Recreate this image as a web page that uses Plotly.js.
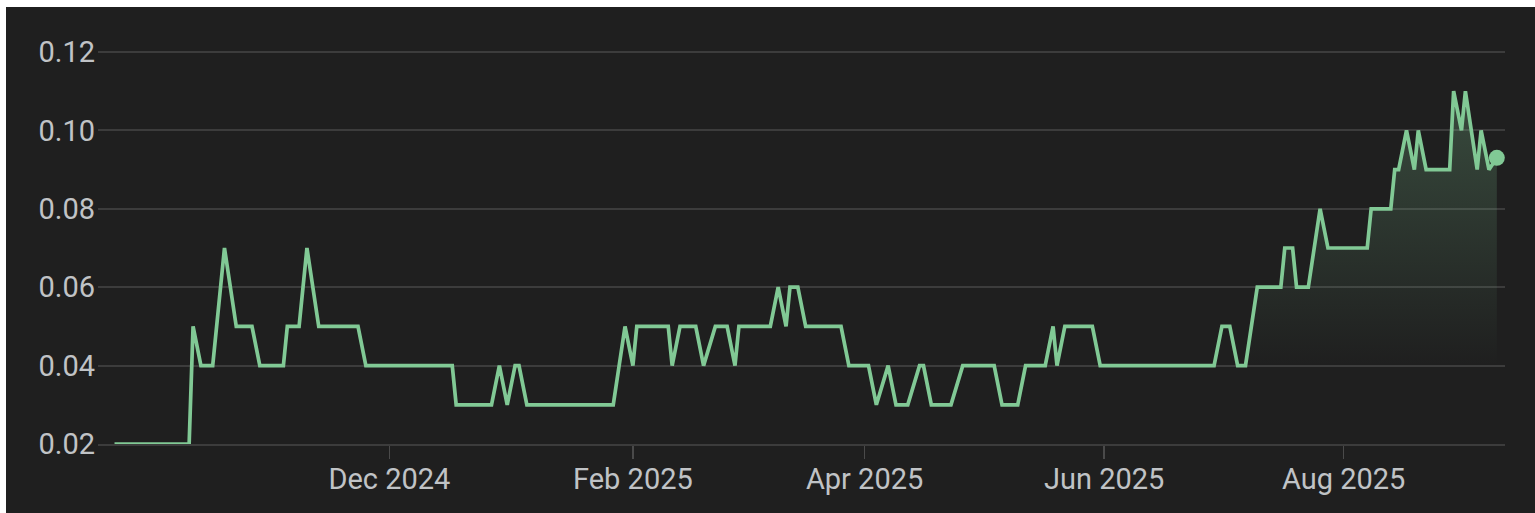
<!DOCTYPE html>
<html>
<head>
<meta charset="utf-8">
<script src="https://cdn.plot.ly/plotly-3.0.1.min.js"></script>
<style>
  html, body { margin: 0; padding: 0; background: #ffffff; width: 1535px; height: 513px; overflow: hidden; }
  #chart { position: absolute; left: 6px; top: 7px; width: 1529px; height: 506px; }
</style>
</head>
<body>
<div id="chart"></div>
<script>
// Price vertices (date, value)
const dates = [
  "2024-09-22","2024-10-11","2024-10-12","2024-10-14","2024-10-17","2024-10-20","2024-10-23","2024-10-27",
  "2024-10-29","2024-11-04","2024-11-05","2024-11-08","2024-11-10","2024-11-13","2024-11-23","2024-11-25",
  "2024-12-17","2024-12-18","2024-12-27","2024-12-29","2024-12-31","2025-01-02","2025-01-03","2025-01-05",
  "2025-01-27","2025-01-30","2025-02-01","2025-02-02","2025-02-10","2025-02-11","2025-02-13","2025-02-17",
  "2025-02-19","2025-02-22","2025-02-25","2025-02-27","2025-02-28","2025-03-08","2025-03-10","2025-03-12",
  "2025-03-13","2025-03-15","2025-03-17","2025-03-26","2025-03-28","2025-04-02","2025-04-04","2025-04-07",
  "2025-04-09","2025-04-12","2025-04-15","2025-04-16","2025-04-18","2025-04-23","2025-04-26","2025-05-04",
  "2025-05-06","2025-05-10","2025-05-12","2025-05-17","2025-05-19","2025-05-20","2025-05-22","2025-05-29",
  "2025-05-31","2025-06-29","2025-07-01","2025-07-03","2025-07-05","2025-07-07","2025-07-10","2025-07-16",
  "2025-07-17","2025-07-19","2025-07-20","2025-07-23","2025-07-26","2025-07-28","2025-08-07","2025-08-08",
  "2025-08-13","2025-08-14","2025-08-15","2025-08-17","2025-08-19","2025-08-20","2025-08-22","2025-08-28",
  "2025-08-29","2025-08-31","2025-09-01","2025-09-04","2025-09-05","2025-09-07","2025-09-09"
];
const prices = [
  0.02,0.02,0.05,0.04,0.04,0.07,0.05,0.05,
  0.04,0.04,0.05,0.05,0.07,0.05,0.05,0.04,
  0.04,0.03,0.03,0.04,0.03,0.04,0.04,0.03,
  0.03,0.05,0.04,0.05,0.05,0.04,0.05,0.05,
  0.04,0.05,0.05,0.04,0.05,0.05,0.06,0.05,
  0.06,0.06,0.05,0.05,0.04,0.04,0.03,0.04,
  0.03,0.03,0.04,0.04,0.03,0.03,0.04,0.04,
  0.03,0.03,0.04,0.04,0.05,0.04,0.05,0.05,
  0.04,0.04,0.05,0.05,0.04,0.04,0.06,0.06,
  0.07,0.07,0.06,0.06,0.08,0.07,0.07,0.08,
  0.08,0.09,0.09,0.10,0.09,0.10,0.09,0.09,
  0.11,0.10,0.11,0.09,0.10,0.09,0.093
];
const fillStartDate = "2025-07-07";
const xTickVals = ["2024-12-01", "2025-02-01", "2025-04-01", "2025-06-01", "2025-08-01"];
const xTickText = ["Dec 2024", "Feb 2025", "Apr 2025", "Jun 2025", "Aug 2025"];
const yTickVals = [0.02, 0.04, 0.06, 0.08, 0.10, 0.12];
const yTickText = ["0.02", "0.04", "0.06", "0.08", "0.10", "0.12"];

const GREEN = "#81c995";
const startIdx = dates.indexOf(fillStartDate);
const fillX = dates.slice(startIdx);
const fillY = prices.slice(startIdx);

const traces = [
  {
    x: fillX, y: fillY, type: "scatter", mode: "lines",
    line: { width: 0, color: "rgba(0,0,0,0)" },
    fill: "tozeroy",
    fillgradient: {
      type: "vertical", start: 0.04, stop: 0.11,
      colorscale: [[0, "rgba(129,201,149,0)"], [1, "rgba(129,201,149,0.26)"]]
    },
    hoverinfo: "skip", showlegend: false
  },
  {
    x: dates, y: prices, type: "scatter", mode: "lines",
    line: { color: GREEN, width: 3.7 },
    showlegend: false
  },
  {
    x: [dates[dates.length - 1]], y: [prices[prices.length - 1]],
    type: "scatter", mode: "markers",
    marker: { color: GREEN, size: 16 },
    showlegend: false
  }
];

const layout = {
  width: 1529, height: 506,
  margin: { l: 92, r: 30, t: 33, b: 69 },
  paper_bgcolor: "#1f1f1f",
  plot_bgcolor: "#1f1f1f",
  font: { family: "Roboto, 'Liberation Sans', Arial, sans-serif", size: 29, color: "#c0c3c6" },
  showlegend: false,
  xaxis: {
    type: "date",
    range: ["2024-09-17 19:00", "2025-09-11 02:00"],
    tickmode: "array", tickvals: xTickVals, ticktext: xTickText,
    showgrid: false, zeroline: false,
    showline: true, linecolor: "#3c3c3c", linewidth: 2,
    ticks: "outside", ticklen: 13, tickwidth: 1.5, tickcolor: "#4a4a4a",
    ticklabelstandoff: -5,
    tickfont: { size: 29, color: "#c0c3c6" }
  },
  yaxis: {
    range: [0.02, 0.12306],
    tickmode: "array", tickvals: yTickVals, ticktext: yTickText,
    showgrid: true, gridcolor: "#3c3c3c", gridwidth: 2,
    zeroline: false, showline: false, ticks: "",
    ticklabelstandoff: 2,
    tickfont: { size: 29, color: "#c0c3c6" }
  }
};

Plotly.newPlot("chart", traces, layout, { displayModeBar: false, staticPlot: true });
</script>
</body>
</html>
